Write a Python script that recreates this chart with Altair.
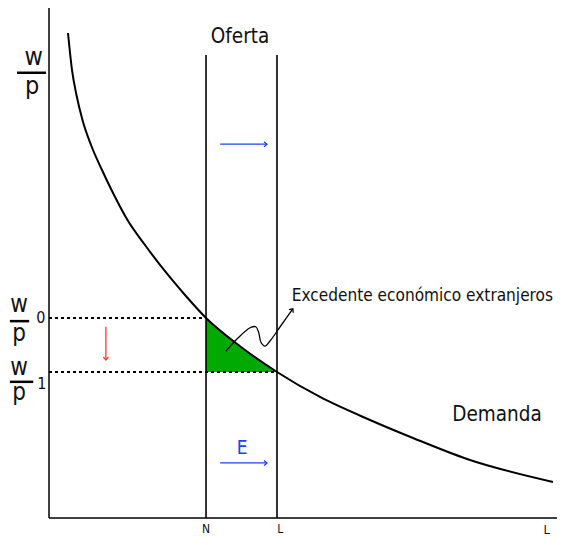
import altair as alt
import pandas as pd

# ---- data (units: x 0..10, y 0..10) ----
demand_x = [0.374, 0.453, 0.541, 0.659, 0.827, 1.043, 1.280, 1.545, 1.890, 2.264,
            2.677, 3.091, 3.780, 4.488, 5.335, 6.319, 7.165, 8.228, 9.921]
demand_y = [9.510, 8.784, 8.294, 7.804, 7.314, 6.824, 6.333, 5.843, 5.353, 4.863,
            4.373, 3.922, 3.353, 2.863, 2.373, 1.922, 1.569, 1.157, 0.706]

N_value = 3.091
L_value = 4.488
wp0 = 3.922
wp1 = 2.863
supply_top = 9.08

# surplus triangle (between N and L, under demand, above w/p1)
surplus_x = [3.091, 3.780, 4.488]
surplus_y = [3.922, 3.353, 2.863]

# wavy pointer to the label
wave_x = [3.48, 3.72, 3.96, 4.07, 4.13, 4.17, 4.25, 4.35, 4.55, 4.80]
wave_y = [3.27, 3.53, 3.73, 3.75, 3.63, 3.45, 3.37, 3.47, 3.75, 4.10]

FONT = "DejaVu Sans Condensed"
DOM = [0, 10]


def X(field="x", t="Q"):
    return alt.X(f"{field}:{t}", scale=alt.Scale(domain=DOM), axis=None)


def Y(field="y", t="Q"):
    return alt.Y(f"{field}:{t}", scale=alt.Scale(domain=DOM), axis=None)


# axes
axes_df = pd.DataFrame({"x": [0, 0], "x2": [0, 10], "y": [0, 0], "y2": [10.2, 0]})
axes = alt.Chart(axes_df).mark_rule(color="black", strokeWidth=1.5).encode(
    x=X(), x2="x2:Q", y=Y(), y2="y2:Q")

# supply verticals
sup_df = pd.DataFrame({"x": [N_value, L_value], "y": [0, 0], "y2": [supply_top, supply_top]})
supply = alt.Chart(sup_df).mark_rule(color="black", strokeWidth=1.6).encode(
    x=X(), y=Y(), y2="y2:Q")

# dotted wage lines
dot_df = pd.DataFrame({"x": [0, 0], "x2": [N_value, L_value], "y": [wp0, wp1]})
dotted = alt.Chart(dot_df).mark_rule(color="black", strokeWidth=2, strokeDash=[3, 3]).encode(
    x=X(), x2="x2:Q", y=Y())

# green surplus
surp_df = pd.DataFrame({"x": surplus_x, "y": surplus_y, "y2": [wp1] * 3})
surplus = alt.Chart(surp_df).mark_area(color="#00aa00", opacity=1, interpolate="monotone").encode(
    x=X(), y=Y(), y2="y2:Q")

# demand curve
dem_df = pd.DataFrame({"x": demand_x, "y": demand_y})
demand = alt.Chart(dem_df).mark_line(color="black", strokeWidth=2, interpolate="monotone").encode(
    x=X(), y=Y())

# wavy pointer
wave_df = pd.DataFrame({"x": wave_x, "y": wave_y, "i": list(range(len(wave_x)))})
wave = alt.Chart(wave_df).mark_line(color="black", strokeWidth=1.3, interpolate="catmull-rom").encode(
    x=X(), y=Y(), order="i:Q")

# straight arrows (blue right, red down)
arr_df = pd.DataFrame({
    "x": [3.37, 3.37, 1.12], "x2": [4.29, 4.29, 1.12],
    "y": [7.33, 1.08, 3.75], "y2": [7.33, 1.08, 3.10],
    "c": ["#1f3fff", "#1f3fff", "#ff3b1f"],
})
arrows = alt.Chart(arr_df).mark_rule(strokeWidth=1.3).encode(
    x=X(), x2="x2:Q", y=Y(), y2="y2:Q", color=alt.Color("c:N", scale=None))

head_df = pd.DataFrame({
    "x": [4.29, 4.29, 1.12, 4.80], "y": [7.33, 1.08, 3.10, 4.10],
    "a": [90, 90, 180, 36],
    "c": ["#1f3fff", "#1f3fff", "#ff3b1f", "black"],
})
heads = alt.Chart(head_df).mark_point(
    shape="M-0.8,0.9L0,0L0.8,0.9", filled=False, size=40, strokeWidth=1.3, opacity=1
).encode(x=X(), y=Y(), angle=alt.Angle("a:Q", scale=None), color=alt.Color("c:N", scale=None))


def texts(df, **kw):
    return alt.Chart(df).mark_text(font=FONT, **kw).encode(
        x=X(), y=Y(), text="t:N",
        size=alt.Size("s:Q", scale=None),
        color=alt.Color("c:N", scale=None))


center_df = pd.DataFrame({
    "t": ["Oferta", "Demanda", "E"],
    "x": [3.76, 8.82, 3.80], "y": [9.43, 2.02, 1.37],
    "s": [20.5, 20.5, 19], "c": ["#111111", "#111111", "#1f3fff"],
})
center_txt = texts(center_df, align="center", baseline="middle")

left_df = pd.DataFrame({
    "t": ["Excedente económico extranjeros"],
    "x": [4.78], "y": [4.35], "s": [17.1], "c": ["#111111"],
})
left_txt = texts(left_df, align="left", baseline="middle")

# w / p labels on the vertical axis
wp_df = pd.DataFrame({
    "t": ["w", "p", "w", "p", "w", "p"],
    "x": [-0.30, -0.33, -0.59, -0.59, -0.59, -0.59],
    "y": [8.88, 8.31, 4.04, 3.47, 2.80, 2.31],
    "s": [25, 25, 24, 24, 24, 24], "c": ["#111111"] * 6,
})
wp_txt = texts(wp_df, align="center", baseline="alphabetic")

sub_df = pd.DataFrame({
    "t": ["0", "1"], "x": [-0.16, -0.14], "y": [3.92, 2.62],
    "s": [16, 16], "c": ["#111111"] * 2,
})
sub_txt = texts(sub_df, align="center", baseline="middle")

frac_df = pd.DataFrame({"x": [-0.63, -0.77, -0.77], "x2": [-0.06, -0.39, -0.31], "y": [8.73, 3.86, 2.67]})
frac = alt.Chart(frac_df).mark_rule(color="black", strokeWidth=2.5).encode(
    x=X(), x2="x2:Q", y=Y())

tick_df = pd.DataFrame({
    "t": ["N", "L", "L"], "x": [N_value, 4.55, 9.80], "y": [-0.12, -0.12, -0.12],
    "s": [12, 12, 13], "c": ["#111111"] * 3,
})
tick_txt = texts(tick_df, align="center", baseline="top")

chart = alt.layer(
    surplus, axes, supply, dotted, demand, wave, arrows, heads,
    center_txt, left_txt, wp_txt, sub_txt, frac, tick_txt,
).properties(
    width=508, height=510,
    autosize=alt.AutoSizeParams(type="none"),
    padding={"left": 41, "top": 0, "right": 0, "bottom": 19},
).configure_view(stroke=None)

chart.save("out.html", embed_options={"renderer": "svg", "actions": False})
